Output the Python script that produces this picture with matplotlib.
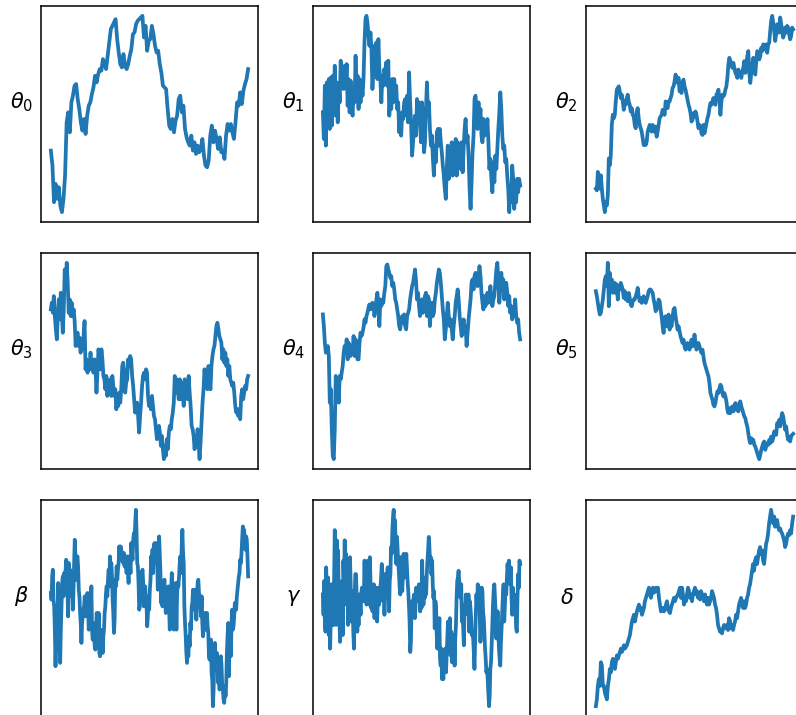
import matplotlib
matplotlib.use("Agg")
import matplotlib.pyplot as plt

# Trace values (arbitrary units, higher = up)
theta0 = [-445, -490, -600, -545, -590, -555, -610, -630, -590, -520, -360, -330, -390, -300, -280, -250,
          -245, -290, -320, -360, -385, -350, -395, -340, -310, -300, -275, -255, -220, -240, -215, -200,
          -205, -170, -185, -200, -160, -120, -80, -70, -60, -50, -110, -150, -185, -195, -155, -190,
          -200, -185, -160, -140, -95, -90, -65, -55, -50, -45, -40, -105, -70, -145, -115, -110, -70,
          -95, -130, -150, -145, -185, -210, -250, -255, -260, -320, -370, -380, -350, -390, -355, -340,
          -290, -280, -330, -310, -380, -405, -420, -430, -400, -445, -420, -455, -430, -450, -440,
          -410, -460, -490, -495, -475, -400, -370, -420, -385, -410, -440, -405, -450, -445, -470,
          -400, -365, -385, -365, -390, -410, -360, -300, -310, -270, -305, -265, -245, -230, -200]

theta1 = [-330, -410, -250, -430, -240, -360, -230, -380, -225, -370, -220, -300, -190, -340, -240, -360,
          -250, -300, -175, -250, -200, -260, -190, -250, -185, -310, -230, -330, -235, -320, -340, -260,
          -300, -160, -280, -220, -320, -230, -300, -240, -280, -230, -120, -50, -40, -60, -100, -130,
          -90, -140, -260, -200, -130, -190, -120, -230, -110, -200, -230, -300, -220, -250, -200, -220,
          -180, -250, -175, -340, -290, -320, -230, -300, -230, -280, -250, -320, -300, -390, -340, -400,
          -330, -350, -300, -290, -340, -280, -360, -210, -300, -360, -460, -420, -380, -340, -400, -290,
          -350, -300, -360, -420, -300, -360, -450, -420, -320, -240, -330, -300, -380, -430, -400, -470,
          -520, -430, -480, -390, -380, -430, -380, -420, -450, -490, -520, -560, -590, -500, -430, -530,
          -450, -500, -420, -520, -430, -490, -410, -520, -420, -480, -440, -500, -420, -510, -440, -380,
          -350, -420, -400, -460, -560, -620, -540, -450, -400, -290, -280, -330, -380, -300, -360, -320,
          -400, -420, -350, -400, -360, -390, -350, -420, -500, -470, -530, -570, -480, -540, -460, -500,
          -440, -380, -330, -270, -320, -400, -440, -430, -480, -470, -520, -560, -630, -560, -600, -490,
          -530, -620, -580, -600, -530, -570, -530, -550]

theta2 = [-560, -565, -510, -530, -560, -520, -560, -590, -610, -630, -600, -610, -580, -470, -490, -460,
          -370, -340, -350, -340, -300, -265, -260, -255, -270, -290, -280, -300, -325, -300, -310, -290,
          -280, -300, -310, -330, -320, -340, -345, -370, -380, -330, -320, -350, -370, -380, -390, -410,
          -430, -420, -430, -420, -390, -380, -370, -380, -390, -370, -385, -390, -375, -405, -390, -370,
          -350, -345, -340, -325, -330, -340, -300, -310, -320, -300, -300, -290, -280, -260, -255, -240,
          -220, -230, -245, -230, -270, -265, -275, -240, -235, -255, -265, -280, -295, -310, -320, -335,
          -360, -355, -335, -345, -330, -340, -360, -380, -370, -375, -395, -400, -370, -395, -380, -365,
          -350, -340, -320, -305, -310, -300, -290, -305, -310, -280, -275, -265, -290, -340, -300, -280,
          -285, -280, -265, -255, -230, -190, -170, -180, -185, -200, -185, -200, -215, -220, -230, -205,
          -225, -220, -230, -210, -200, -180, -215, -195, -165, -150, -215, -245, -215, -190, -170, -185,
          -220, -180, -150, -155, -175, -165, -140, -150, -130, -135, -145, -130, -155, -130, -125, -90,
          -60, -45, -65, -90, -120, -100, -70, -85, -95, -50, -70, -90, -110, -100, -80, -95, -75, -80,
          -100, -115, -105, -80, -85]

theta3 = [-180, -160, -190, -140, -200, -240, -270, -200, -150, -210, -130, -180, -250, -180, -60, -110,
          -40, -100, -190, -150, -200, -160, -200, -180, -215, -290, -260, -250, -290, -265, -310, -270,
          -300, -260, -215, -360, -330, -370, -340, -360, -310, -360, -340, -370, -330, -350, -430, -370,
          -300, -320, -360, -300, -330, -380, -390, -420, -380, -440, -400, -430, -390, -440, -380, -410,
          -440, -420, -480, -460, -470, -430, -460, -420, -350, -340, -370, -430, -400, -390, -330, -350,
          -320, -330, -380, -410, -450, -490, -470, -460, -500, -550, -500, -460, -410, -380, -370, -390,
          -360, -370, -440, -470, -450, -480, -440, -470, -500, -510, -540, -570, -560, -530, -550, -590,
          -560, -600, -630, -590, -620, -570, -600, -550, -530, -540, -510, -490, -460, -380, -430, -390,
          -420, -450, -390, -450, -400, -430, -470, -390, -440, -410, -450, -380, -430, -470, -530, -540,
          -560, -600, -560, -580, -540, -580, -630, -580, -520, -460, -420, -360, -400, -370, -420, -350,
          -400, -420, -350, -320, -300, -290, -260, -230, -220, -240, -260, -270, -280, -330, -300, -340,
          -310, -350, -330, -380, -350, -390, -400, -410, -400, -430, -470, -490, -480, -500, -480, -510,
          -440, -420, -450, -430, -410, -420, -390, -380]

theta4 = [-195, -230, -280, -310, -300, -290, -320, -460, -420, -540, -620, -630, -540, -380, -430, -390,
          -460, -380, -390, -370, -350, -310, -290, -310, -270, -330, -280, -310, -320, -290, -310, -260,
          -320, -270, -300, -330, -330, -280, -250, -260, -250, -235, -210, -220, -200, -190, -175, -165,
          -180, -170, -160, -165, -200, -180, -150, -130, -170, -230, -150, -170, -155, -160, -130, -110,
          -50, -45, -60, -70, -85, -80, -110, -100, -120, -150, -160, -180, -200, -230, -240, -210, -200,
          -220, -195, -230, -240, -200, -190, -180, -150, -130, -110, -100, -80, -60, -95, -150, -130,
          -170, -200, -180, -150, -190, -160, -140, -130, -200, -140, -150, -230, -180, -160, -200, -190,
          -150, -130, -100, -80, -60, -70, -100, -140, -180, -210, -270, -240, -200, -160, -200, -230,
          -210, -240, -270, -230, -200, -160, -140, -120, -150, -200, -230, -260, -240, -210, -250, -230,
          -290, -250, -210, -180, -150, -100, -90, -120, -80, -70, -90, -110, -80, -50, -80, -130, -160,
          -180, -140, -170, -150, -130, -160, -140, -110, -150, -170, -150, -140, -100, -60, -40, -90,
          -160, -120, -70, -110, -90, -150, -120, -100, -130, -170, -140, -190, -170, -210, -180, -200,
          -150, -200, -220, -210, -250, -270]

theta5 = [-125, -140, -160, -180, -195, -190, -170, -150, -120, -90, -80, -110, -40, -170, -70, -120,
          -90, -130, -110, -100, -130, -105, -150, -110, -120, -100, -110, -120, -145, -125, -150, -140,
          -155, -130, -145, -165, -170, -155, -150, -150, -140, -130, -115, -140, -155, -145, -160, -150,
          -140, -155, -160, -150, -140, -125, -120, -120, -125, -130, -150, -165, -185, -180, -165, -150,
          -155, -180, -200, -230, -250, -210, -200, -230, -215, -195, -240, -220, -230, -200, -180, -175,
          -200, -220, -240, -230, -245, -260, -270, -280, -270, -290, -300, -285, -280, -295, -300, -290,
          -270, -290, -285, -255, -280, -300, -290, -280, -290, -300, -310, -300, -320, -340, -350, -360,
          -370, -380, -400, -430, -440, -450, -465, -470, -460, -440, -425, -430, -415, -405, -410, -430,
          -440, -430, -440, -455, -480, -490, -475, -490, -480, -470, -485, -470, -460, -480, -470, -485,
          -460, -455, -470, -480, -490, -500, -505, -520, -530, -550, -570, -580, -565, -575, -570, -585,
          -590, -600, -610, -620, -628, -615, -600, -590, -580, -575, -600, -590, -580, -585, -570, -580,
          -560, -575, -565, -545, -550, -555, -520, -525, -510, -530, -505, -490, -500, -520, -540, -530,
          -555, -570, -560, -575, -560, -555, -552]

beta = [-290, -310, -240, -220, -310, -330, -400, -510, -420, -330, -380, -260, -320, -440, -500, -400,
        -330, -260, -240, -300, -230, -280, -230, -190, -200, -280, -360, -200, -290, -220, -260, -300,
        -250, -340, -290, -200, -130, -180, -250, -190, -180, -210, -280, -300, -350, -380, -440, -380,
        -360, -340, -330, -300, -360, -300, -350, -290, -330, -400, -380, -290, -330, -270, -400, -430,
        -380, -410, -450, -460, -400, -350, -380, -420, -350, -470, -480, -400, -450, -420, -470, -420,
        -400, -350, -330, -290, -270, -300, -250, -220, -270, -180, -220, -200, -240, -310, -350, -410,
        -370, -250, -270, -210, -250, -220, -200, -150, -190, -150, -160, -180, -170, -200, -170, -210,
        -180, -200, -230, -180, -220, -260, -180, -210, -230, -140, -170, -190, -130, -110, -140, -80,
        -40, -110, -200, -210, -260, -340, -330, -280, -260, -230, -220, -260, -330, -300, -270, -310,
        -320, -390, -360, -300, -340, -280, -250, -180, -220, -160, -230, -150, -140, -160, -200, -140,
        -180, -280, -240, -120, -180, -230, -320, -290, -330, -300, -270, -250, -300, -350, -290, -330,
        -300, -270, -330, -400, -370, -300, -230, -270, -330, -400, -280, -290, -260, -400, -300, -260,
        -270, -240, -200, -180, -230, -150, -100, -170, -200, -330, -380, -420, -470, -500, -460, -480,
        -420, -450, -380, -400, -330, -320, -280, -290, -340, -300, -280, -370, -300, -260, -250, -290,
        -300, -330, -360, -300, -380, -420, -400, -390, -350, -400, -360, -350, -390, -410, -480, -490,
        -450, -430, -530, -550, -630, -580, -500, -440, -520, -480, -470, -500, -560, -490, -580, -500,
        -480, -510, -570, -580, -610, -620, -570, -600, -560, -470, -420, -380, -540, -400, -450, -480,
        -380, -340, -400, -390, -360, -320, -330, -340, -300, -280, -260, -240, -230, -190, -200, -170,
        -130, -90, -110, -100, -140, -160, -120, -130, -180, -240]

gamma = [-290, -350, -250, -370, -400, -210, -300, -380, -240, -410, -300, -450, -350, -260, -380, -290,
         -380, -230, -100, -320, -380, -130, -250, -160, -300, -360, -430, -300, -380, -250, -410, -190,
         -260, -130, -280, -170, -320, -230, -380, -310, -330, -180, -260, -370, -280, -330, -400, -450,
         -300, -230, -230, -290, -400, -340, -380, -290, -310, -350, -290, -270, -280, -310, -290, -190,
         -300, -250, -320, -230, -190, -300, -320, -180, -250, -330, -290, -340, -320, -260, -360, -310,
         -270, -330, -370, -300, -270, -320, -280, -270, -240, -200, -280, -310, -230, -350, -270, -230,
         -280, -230, -210, -270, -340, -250, -230, -150, -170, -100, -60, -40, -100, -70, -150, -200,
         -120, -160, -200, -230, -270, -290, -180, -240, -280, -220, -170, -240, -200, -230, -170, -210,
         -250, -280, -320, -370, -460, -430, -320, -310, -340, -300, -290, -360, -320, -270, -310, -280,
         -310, -260, -290, -340, -270, -330, -190, -280, -320, -250, -300, -240, -290, -230, -190, -160,
         -120, -150, -200, -180, -230, -190, -260, -300, -280, -390, -310, -330, -410, -450, -390, -420,
         -360, -480, -500, -450, -540, -490, -540, -460, -500, -450, -520, -470, -420, -370, -430, -400,
         -360, -470, -400, -490, -410, -470, -410, -500, -420, -380, -300, -250, -240, -220, -250, -280,
         -300, -260, -370, -320, -390, -440, -330, -350, -290, -310, -300, -330, -290, -400, -310, -330,
         -360, -410, -400, -420, -460, -510, -430, -350, -290, -330, -260, -300, -270, -350, -430, -380,
         -270, -280, -340, -360, -400, -450, -480, -520, -510, -540, -580, -620, -590, -510, -490, -440,
         -380, -320, -280, -260, -300, -350, -420, -380, -340, -400, -450, -480, -500, -430, -390, -340,
         -290, -260, -370, -320, -270, -290, -240, -200, -230, -190, -220, -260, -210, -300, -350, -270,
         -320, -290, -300, -330, -390, -400, -300, -230, -270, -190, -200]

delta = [-620, -600, -560, -540, -560, -490, -500, -560, -560, -580, -590, -600, -560, -540, -510, -520,
         -490, -480, -500, -510, -490, -470, -480, -470, -460, -450, -460, -450, -440, -450, -445, -440,
         -430, -420, -410, -390, -370, -360, -350, -370, -355, -340, -330, -320, -335, -330, -350, -340,
         -330, -310, -300, -290, -280, -270, -290, -300, -280, -270, -285, -280, -270, -280, -270, -300,
         -320, -340, -335, -330, -340, -335, -320, -310, -330, -340, -345, -330, -320, -310, -300, -310,
         -300, -295, -290, -280, -270, -300, -270, -290, -320, -300, -310, -290, -270, -280, -300, -290,
         -310, -290, -280, -270, -290, -280, -300, -285, -305, -280, -290, -300, -310, -290, -310, -320,
         -300, -320, -310, -300, -280, -290, -300, -320, -330, -350, -380, -390, -400, -395, -405, -390,
         -380, -390, -385, -380, -395, -360, -370, -390, -380, -395, -380, -370, -350, -360, -340, -320,
         -310, -300, -320, -330, -310, -330, -320, -300, -290, -270, -260, -240, -220, -200, -220, -190,
         -180, -200, -180, -160, -150, -170, -160, -190, -200, -170, -140, -130, -110, -80, -60, -40,
         -60, -80, -60, -90, -80, -70, -90, -100, -95, -105, -110, -120, -130, -150, -140, -120, -110,
         -115, -100, -110, -80, -60]

series = [theta0, theta1, theta2, theta3, theta4, theta5, beta, gamma, delta]
labels = [r'$\theta_0$', r'$\theta_1$', r'$\theta_2$', r'$\theta_3$', r'$\theta_4$', r'$\theta_5$',
          r'$\beta$', r'$\gamma$', r'$\delta$']

W, H = 796, 715
fig = plt.figure(figsize=(W / 100, H / 100), dpi=100)
col_left = [41, 313, 586]
row_top = [6, 253, 500]
aw, ah = 217, 216

for i, (vals, lab) in enumerate(zip(series, labels)):
    r, c = divmod(i, 3)
    ax = fig.add_axes([col_left[c] / W, 1 - (row_top[r] + ah) / H, aw / W, ah / H])
    ax.plot(range(len(vals)), vals, color='#1f77b4', lw=2.7)
    ax.set_xticks([])
    ax.set_yticks([])
    for s in ax.spines.values():
        s.set_linewidth(1.1)
    ax.set_ylabel(lab, rotation=0, fontsize=15, labelpad=14)

fig.savefig('out.png', dpi=100)
